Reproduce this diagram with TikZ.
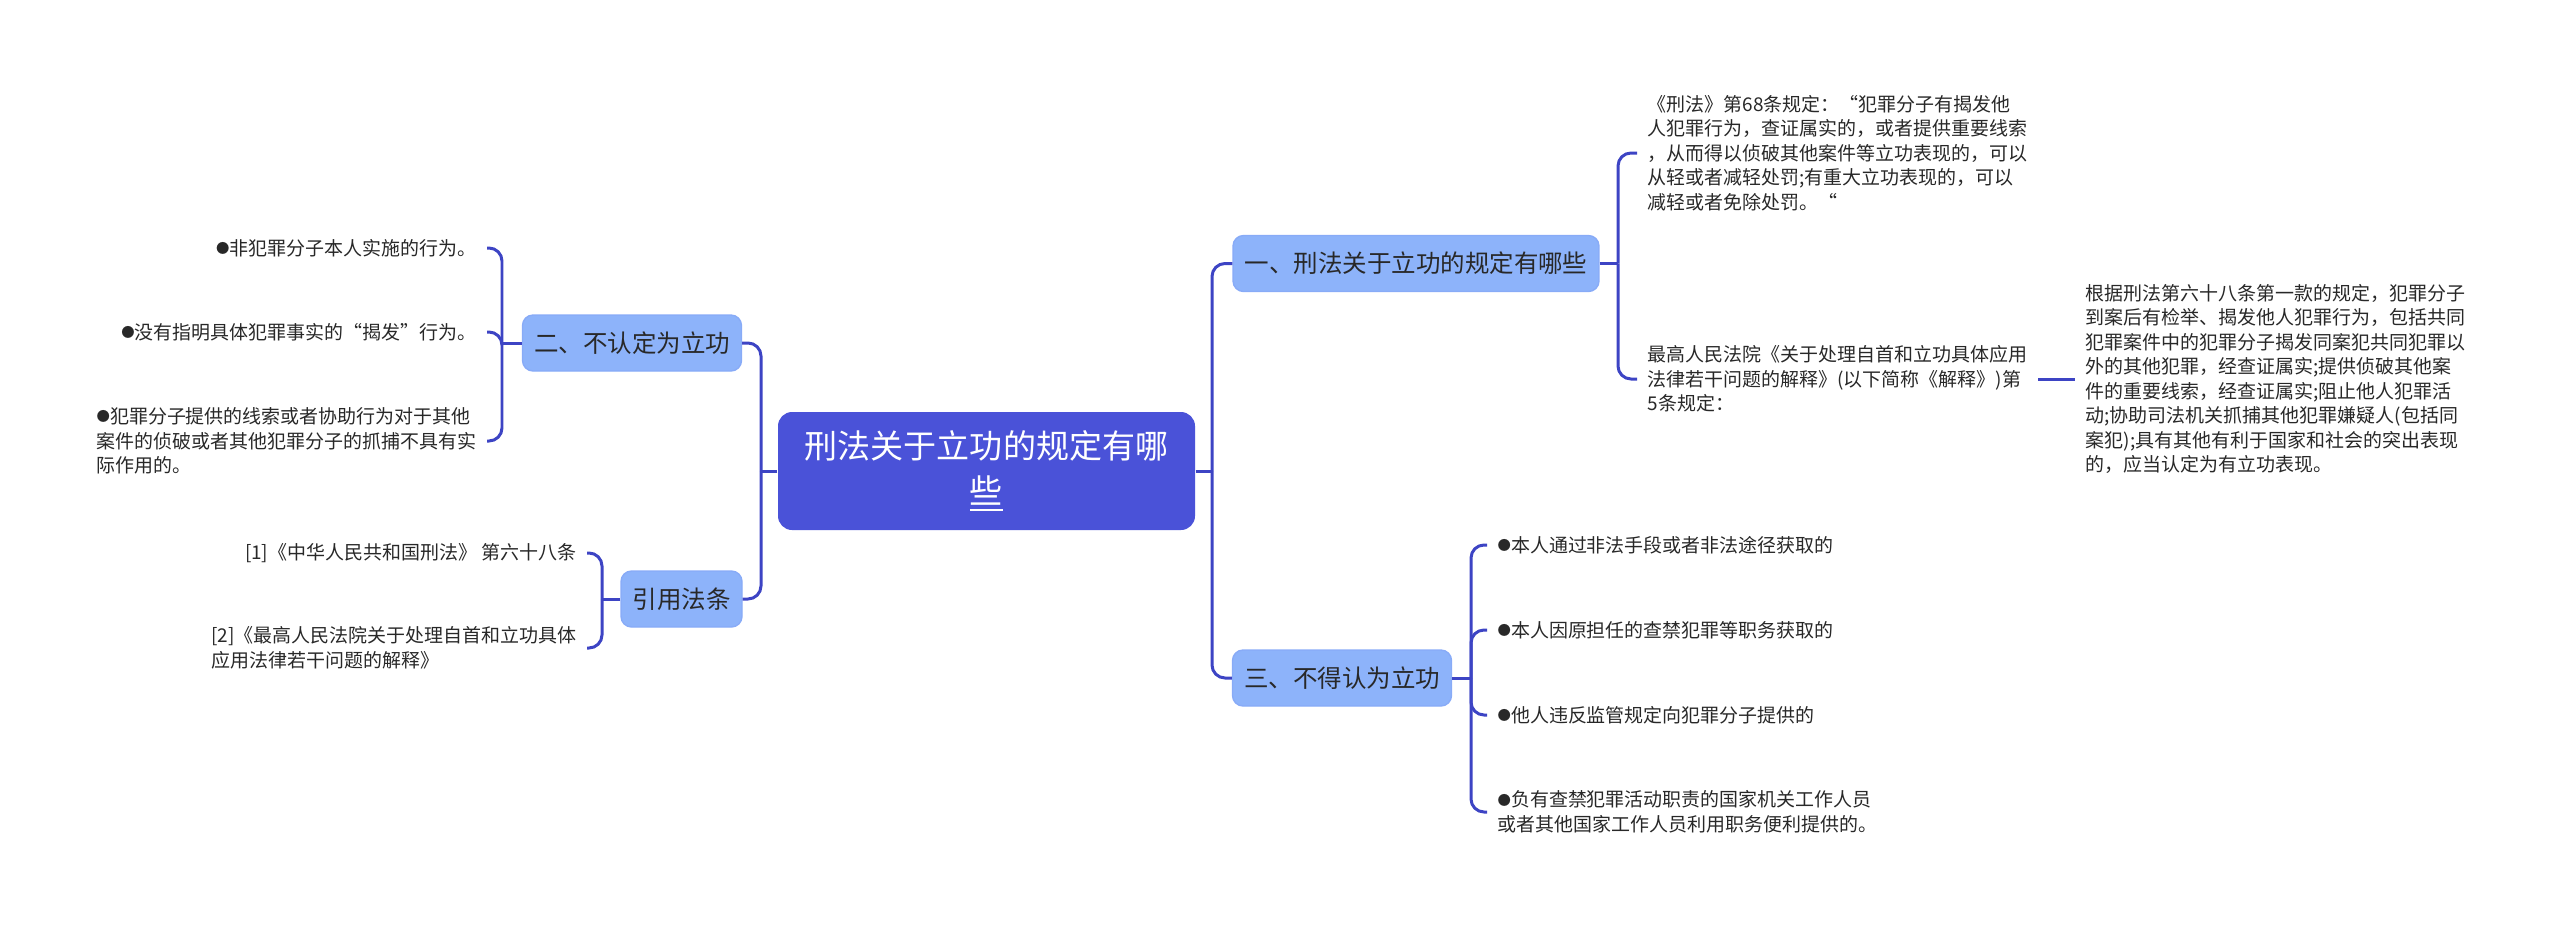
\documentclass[tikz,border=0pt]{standalone}
\usepackage{fontspec}
\setmainfont{Noto Sans CJK SC}
\definecolor{mmroot}{RGB}{74,82,216}
\definecolor{mmtopic}{RGB}{141,179,250}
\definecolor{mmline}{RGB}{61,68,196}
\definecolor{mmtext}{RGB}{40,40,40}
\usetikzlibrary{positioning,calc}
\newcommand\mmdot{\raisebox{0.5pt}{\fontsize{3.8pt}{0pt}\selectfont ●}}

\begin{document}
\begin{tikzpicture}[
    root/.style={rectangle, rounded corners=4pt, fill=mmroot, text=white, align=center,
      minimum width=4.17cm, minimum height=1.18cm, font=\fontsize{9.4pt}{12.8pt}\selectfont},
    topic/.style={rectangle, rounded corners=3pt, fill=mmtopic, draw=mmtopic!92!mmroot, thin,
      inner xsep=0.115cm, minimum height=0.56cm, text=mmtext, font=\fontsize{6.97pt}{8pt}\selectfont},
    leaf/.style={align=left, text=mmtext, inner xsep=0.1cm, font=\fontsize{5.4pt}{6.97pt}\selectfont},
    link/.style={draw=mmline, line width=0.85pt, rounded corners=0.13cm}
  ]
    \useasboundingbox (0,0) rectangle (25.6,-9.29);

    % Central topic
    \node[root] (root) at (9.865,-4.71) {刑法关于立功的规定有哪\\\underline{些}};

    % Main branches
    \node[topic] (n1)   at (14.16,-2.635) {一、刑法关于立功的规定有哪些};
    \node[topic] (n3)   at (13.42,-6.78)  {三、不得认为立功};
    \node[topic] (n2)   at (6.32,-3.43)   {二、不认定为立功};
    \node[topic] (cite) at (6.815,-5.99)  {引用法条};

    % Junction points
    \coordinate (jl) at (7.61,-4.71);
    \coordinate (jr) at (12.12,-4.71);
    \coordinate (j1) at (16.18,-2.635);
    \coordinate (j3) at (14.71,-6.78);
    \coordinate (j2) at (5.02,-3.43);
    \coordinate (jc) at (6.02,-5.99);

    % Branch one
    \node[leaf, anchor=west] (a1) at (16.37,-1.53)
      {《刑法》第68条规定：“犯罪分子有揭发他\\人犯罪行为，查证属实的，或者提供重要线索\\，从而得以侦破其他案件等立功表现的，可以\\从轻或者减轻处罚;有重大立功表现的，可以\\减轻或者免除处罚。“};
    \node[leaf, anchor=west] (a2) at (16.37,-3.79)
      {最高人民法院《关于处理自首和立功具体应用\\法律若干问题的解释》(以下简称《解释》)第\\5条规定：};
    \node[leaf, anchor=west] (far) at (20.75,-3.79)
      {根据刑法第六十八条第一款的规定，犯罪分子\\到案后有检举、揭发他人犯罪行为，包括共同\\犯罪案件中的犯罪分子揭发同案犯共同犯罪以\\外的其他犯罪，经查证属实;提供侦破其他案\\件的重要线索，经查证属实;阻止他人犯罪活\\动;协助司法机关抓捕其他犯罪嫌疑人(包括同\\案犯);具有其他有利于国家和社会的突出表现\\的，应当认定为有立功表现。};

    % Branch three
    \node[leaf, anchor=west] (b1) at (14.87,-5.45) {\mmdot 本人通过非法手段或者非法途径获取的};
    \node[leaf, anchor=west] (b2) at (14.87,-6.30) {\mmdot 本人因原担任的查禁犯罪等职务获取的};
    \node[leaf, anchor=west] (b3) at (14.87,-7.15) {\mmdot 他人违反监管规定向犯罪分子提供的};
    \node[leaf, anchor=west] (b4) at (14.87,-8.12)
      {\mmdot 负有查禁犯罪活动职责的国家机关工作人员\\或者其他国家工作人员利用职务便利提供的。};

    % Branch two
    \node[leaf, anchor=east] (c1) at (4.87,-2.48) {\mmdot 非犯罪分子本人实施的行为。};
    \node[leaf, anchor=east] (c2) at (4.87,-3.32) {\mmdot 没有指明具体犯罪事实的“揭发”行为。};
    \node[leaf, anchor=east] (c3) at (4.87,-4.41)
      {\mmdot 犯罪分子提供的线索或者协助行为对于其他\\案件的侦破或者其他犯罪分子的抓捕不具有实\\际作用的。};

    % Citations
    \node[leaf, anchor=east] (d1) at (5.87,-5.53) {[1]《中华人民共和国刑法》 第六十八条};
    \node[leaf, anchor=east] (d2) at (5.87,-6.48)
      {[2]《最高人民法院关于处理自首和立功具体\\应用法律若干问题的解释》};

    % Connectors
    \draw[link] (root.west) -- (jl);
    \draw[link] (root.east) -- (jr);
    \draw[link] (jl) |- (n2.east);
    \draw[link] (jl) |- (cite.east);
    \draw[link] (jr) |- (n1.west);
    \draw[link] (jr) |- (n3.west);

    \draw[link] (n1.east) -- (j1);
    \draw[link] (j1) |- (a1.west);
    \draw[link] (j1) |- (a2.west);
    \draw[link] (a2.east) -- (far.west);

    \draw[link] (n3.east) -- (j3);
    \foreach \b in {b1,b2,b3,b4}
      \draw[link] (j3) |- (\b.west);

    \draw[link] (n2.west) -- (j2);
    \foreach \c in {c1,c2,c3}
      \draw[link] (j2) |- (\c.east);

    \draw[link] (cite.west) -- (jc);
    \draw[link] (jc) |- (d1.east);
    \draw[link] (jc) |- (d2.east);
\end{tikzpicture}
\end{document}
